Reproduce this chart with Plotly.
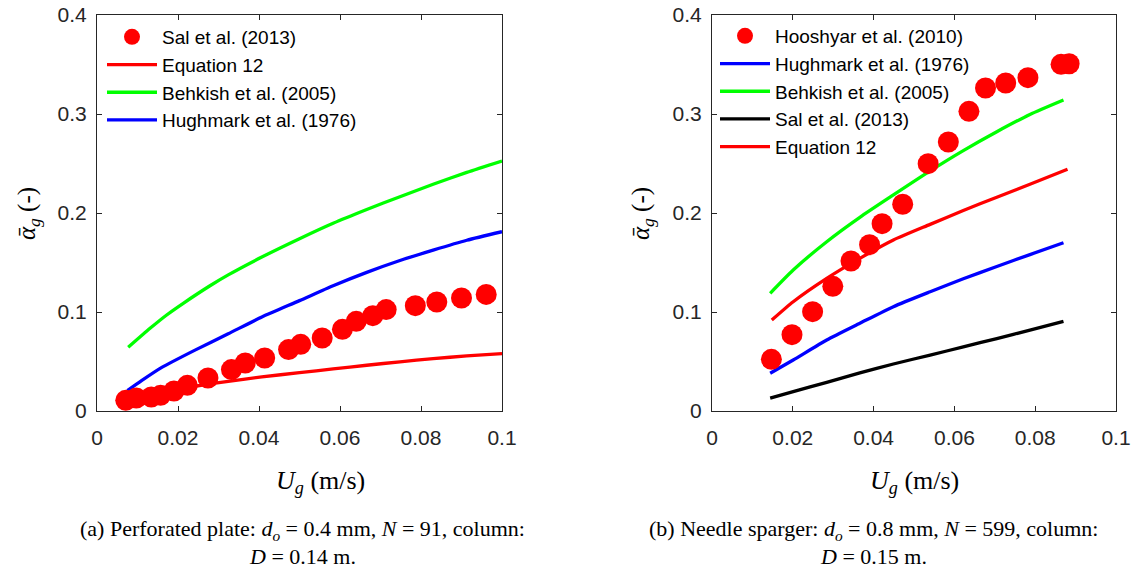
import plotly.graph_objects as go

# ---------------- Data: panel (a) ----------------
U_sal = [0.0071, 0.0097, 0.0134, 0.0157, 0.0190, 0.0223, 0.0274, 0.0332, 0.0366, 0.0414, 0.0473,
         0.0503, 0.0556, 0.0606, 0.0640, 0.0681, 0.0714, 0.0786, 0.0839, 0.0900, 0.0961]
a_sal = [0.0108, 0.0131, 0.0141, 0.0158, 0.0202, 0.0259, 0.0333, 0.0418, 0.0485, 0.0535, 0.0620,
         0.0673, 0.0737, 0.0825, 0.0906, 0.0963, 0.1024, 0.1064, 0.1101, 0.1141, 0.1178]
U_line_a = [0.0075, 0.011, 0.016, 0.0242, 0.0324, 0.0407, 0.050, 0.0583, 0.0666, 0.0748, 0.083, 0.0913, 0.1]
a_eq12_a = [0.012, 0.015, 0.019, 0.025, 0.030, 0.0345, 0.0387, 0.0425, 0.0462, 0.0497, 0.0529, 0.0556, 0.0580]
a_hughmark_a = [0.0205, 0.0306, 0.044, 0.0615, 0.078, 0.095, 0.1115, 0.1265, 0.1400, 0.1520, 0.1625, 0.1725, 0.1811]
U_behkish_a = [0.0077, 0.0131, 0.0172, 0.0213, 0.0279, 0.0324, 0.0407, 0.050, 0.0583, 0.0666, 0.0748,
               0.083, 0.0913, 0.1]
a_behkish_a = [0.0643, 0.0835, 0.097, 0.1088, 0.1265, 0.1375, 0.1555, 0.1740, 0.1896, 0.2035, 0.2165,
               0.2290, 0.2410, 0.2525]

# ---------------- Data: panel (b) ----------------
U_hoo = [0.0147, 0.0198, 0.0249, 0.0299, 0.0344, 0.0390, 0.0421, 0.0472, 0.0535, 0.0585, 0.0636,
         0.0677, 0.0727, 0.0782, 0.0864, 0.0884]
a_hoo = [0.0522, 0.0771, 0.1003, 0.1259, 0.1515, 0.168, 0.1892, 0.2088, 0.2498, 0.2717, 0.3027,
         0.3263, 0.3313, 0.3367, 0.3502, 0.3508]
U_line_b = [0.0144, 0.0201, 0.0284, 0.0366, 0.0449, 0.054, 0.0622, 0.0705, 0.0787, 0.087]
a_hughmark_b = [0.0381, 0.0515, 0.0717, 0.0886, 0.1054, 0.1205, 0.1335, 0.1460, 0.1580, 0.170]
a_behkish_b = [0.1189, 0.1424, 0.171, 0.1956, 0.2182, 0.2425, 0.2630, 0.2821, 0.2995, 0.3141]
a_sal_b = [0.013, 0.0195, 0.029, 0.0385, 0.0475, 0.0565, 0.0648, 0.0732, 0.0817, 0.0905]
U_eq12_b = [0.0148, 0.0201, 0.0284, 0.0366, 0.0449, 0.054, 0.0622, 0.0705, 0.0787, 0.088]
a_eq12_b = [0.0919, 0.1104, 0.134, 0.1542, 0.1727, 0.1885, 0.2025, 0.2160, 0.2290, 0.2441]

x_ticks = [0, 0.02, 0.04, 0.06, 0.08, 0.1]
x_ticklabels = ["0", "0.02", "0.04", "0.06", "0.08", "0.1"]
y_ticks = [0, 0.1, 0.2, 0.3, 0.4]
y_ticklabels = ["0", "0.1", "0.2", "0.3", "0.4"]

RED, GREEN, BLUE, BLACK = "#ff0000", "#00ff00", "#0000ff", "#000000"
LW = 3.3
MS = 21


def curve(x, y, name, color, rank, leg, xa, ya):
    return go.Scatter(x=x, y=y, mode="lines", name=name,
                      line=dict(color=color, width=LW, shape="spline", smoothing=0.6),
                      legendrank=rank, legend=leg, xaxis=xa, yaxis=ya)


fig = go.Figure()

# Panel (a): lines first, markers on top
fig.add_trace(curve(U_line_a, a_eq12_a, "Equation 12", RED, 2, "legend", "x", "y"))
fig.add_trace(curve(U_behkish_a, a_behkish_a, "Behkish et al. (2005)", GREEN, 3, "legend", "x", "y"))
fig.add_trace(curve(U_line_a, a_hughmark_a, "Hughmark et al. (1976)", BLUE, 4, "legend", "x", "y"))
fig.add_trace(go.Scatter(x=U_sal, y=a_sal, mode="markers", name="Sal et al. (2013)",
                         marker=dict(color=RED, size=MS, line=dict(width=0)), legendrank=1,
                         legend="legend", xaxis="x", yaxis="y"))

# Panel (b)
fig.add_trace(curve(U_line_b, a_hughmark_b, "Hughmark et al. (1976)", BLUE, 2, "legend2", "x2", "y2"))
fig.add_trace(curve(U_line_b, a_behkish_b, "Behkish et al. (2005)", GREEN, 3, "legend2", "x2", "y2"))
fig.add_trace(curve(U_line_b, a_sal_b, "Sal et al. (2013)", BLACK, 4, "legend2", "x2", "y2"))
fig.add_trace(curve(U_eq12_b, a_eq12_b, "Equation 12", RED, 5, "legend2", "x2", "y2"))
fig.add_trace(go.Scatter(x=U_hoo, y=a_hoo, mode="markers", name="Hooshyar et al. (2010)",
                         marker=dict(color=RED, size=MS, line=dict(width=0)), legendrank=1,
                         legend="legend2", xaxis="x2", yaxis="y2"))

# Page body margin is removed by a post script, so the figure fills the window.
W, H = 1140, 572


def fx(px):
    return px / W


def fy(py):
    return 1 - py / H


yd = [fy(411), fy(15)]
xd1 = [fx(97), fx(502)]
xd2 = [fx(712), fx(1116)]

AX = "#262626"
tickfont = dict(family="Liberation Sans, Arial, sans-serif", size=21, color=AX)


def xaxis(domain, anchor):
    return dict(domain=domain, anchor=anchor, range=[0, 0.1], tickvals=x_ticks,
                ticktext=x_ticklabels, showline=True, mirror="ticks", linecolor=AX,
                linewidth=1, ticks="inside", ticklen=5, tickcolor=AX, showgrid=False,
                zeroline=False, tickfont=tickfont, fixedrange=True, automargin=False,
                ticklabelstandoff=8, ticklabeloverflow="allow")


def yaxis(domain, anchor):
    return dict(domain=domain, anchor=anchor, range=[0, 0.4], tickvals=y_ticks,
                ticktext=y_ticklabels, showline=True, mirror="ticks", linecolor=AX,
                linewidth=1, ticks="inside", ticklen=5, tickcolor=AX, showgrid=False,
                zeroline=False, tickfont=tickfont, fixedrange=True, automargin=False,
                ticklabelstandoff=5, ticklabeloverflow="allow")


legfont = dict(family="Liberation Sans, Arial, sans-serif", size=19, color="#000000")

fig.update_layout(
    template="none",
    width=W, height=H,
    margin=dict(l=0, r=0, t=0, b=0, autoexpand=False),
    paper_bgcolor="white", plot_bgcolor="white",
    xaxis=xaxis(xd1, "y"), yaxis=yaxis(yd, "x"),
    xaxis2=xaxis(xd2, "y2"), yaxis2=yaxis(yd, "x2"),
    legend=dict(x=fx(102), y=fy(18), xanchor="left", yanchor="top",
                bgcolor="rgba(255,255,255,0)", borderwidth=0, font=legfont,
                tracegroupgap=0, itemwidth=50),
    legend2=dict(x=fx(715), y=fy(17), xanchor="left", yanchor="top",
                 bgcolor="rgba(255,255,255,0)", borderwidth=0, font=legfont,
                 tracegroupgap=0, itemwidth=50),
    showlegend=True,
)

serif = "Liberation Serif, Times New Roman, serif"
ylab = "<i>ᾱ</i><sub><i>g</i></sub> (-)"
xlab = "<i>U</i><sub><i>g</i></sub> (m/s)"

annotations = [
    dict(text=ylab, x=fx(28), y=fy(214), textangle=-90, font=dict(family=serif, size=25, color="#000")),
    dict(text=ylab, x=fx(642), y=fy(214), textangle=-90, font=dict(family=serif, size=25, color="#000")),
    dict(text=xlab, x=fx(320), y=fy(482), font=dict(family=serif, size=26, color="#000")),
    dict(text=xlab, x=fx(914), y=fy(482), font=dict(family=serif, size=26, color="#000")),
    dict(text="(a) Perforated plate: <i>d<sub>o</sub></i> = 0.4 mm, <i>N</i> = 91, column:",
         x=fx(302), y=fy(530), font=dict(family=serif, size=22, color="#000")),
    dict(text="<i>D</i> = 0.14 m.", x=fx(302), y=fy(556), font=dict(family=serif, size=22, color="#000")),
    dict(text="(b) Needle sparger: <i>d<sub>o</sub></i> = 0.8 mm, <i>N</i> = 599, column:",
         x=fx(873), y=fy(530), font=dict(family=serif, size=22, color="#000")),
    dict(text="<i>D</i> = 0.15 m.", x=fx(873), y=fy(556), font=dict(family=serif, size=22, color="#000")),
]
for a in annotations:
    a.update(xref="paper", yref="paper", showarrow=False, xanchor="center", yanchor="middle")
fig.update_layout(annotations=annotations)

fig.write_html(
    "out.html",
    config={"displayModeBar": False},
    post_script="document.body.style.margin='0';document.body.style.padding='0';",
)
